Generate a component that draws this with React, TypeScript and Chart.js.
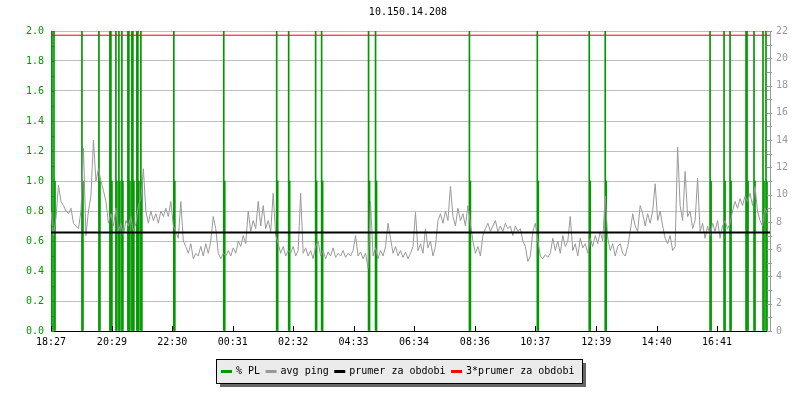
import { useEffect, useRef } from 'react';
import { Chart, registerables } from 'chart.js';

Chart.register(...registerables);

// ---- data ----
const chartTitle = '10.150.14.208';
const timeLabels = ['18:27', '20:29', '22:30', '00:31', '02:32', '04:33', '06:34', '08:36', '10:37', '12:39', '14:40', '16:41'];
const spanMinutes = 1440;
const pingStepMinutes = 5;

// average ping [ms], one value per 5 minutes starting 18:27
const pingMs = [
  8.8, 7.0, 8.3, 10.7, 9.5, 9.2, 8.8, 8.6, 9.0, 7.9, 7.7, 7.5,
  8.8, 13.4, 7.0, 8.8, 9.9, 14.0, 11.0, 11.9, 11.0, 10.3, 9.5, 7.9,
  8.6, 7.7, 9.0, 7.3, 7.9, 7.0, 8.1, 7.7, 8.4, 7.3, 7.9, 9.2,
  9.7, 11.9, 8.8, 7.9, 8.8, 8.1, 8.6, 7.9, 8.8, 8.4, 9.0, 8.4,
  9.5, 7.7, 7.3, 6.8, 9.5, 6.6, 6.2, 5.7, 6.4, 5.3, 5.7, 5.5,
  6.2, 5.5, 6.4, 5.7, 6.6, 8.4, 7.5, 5.7, 5.3, 5.7, 5.5, 5.9,
  5.5, 6.1, 5.7, 6.6, 6.2, 7.0, 6.4, 8.8, 7.3, 8.1, 7.5, 9.5,
  7.7, 9.2, 7.5, 8.1, 7.3, 10.1, 7.0, 6.4, 5.7, 6.2, 5.5, 5.9,
  5.7, 6.2, 5.5, 5.9, 10.1, 5.7, 6.1, 5.5, 5.9, 5.3, 6.2, 6.6,
  5.5, 5.9, 5.3, 5.8, 5.5, 6.1, 5.4, 5.7, 5.5, 5.9, 5.4, 5.7,
  5.5, 5.9, 7.0, 5.5, 5.8, 5.3, 5.7, 4.6, 9.5, 5.5, 6.1, 5.3,
  5.9, 5.5, 6.2, 7.9, 6.8, 5.7, 6.2, 5.5, 5.9, 5.4, 5.8, 5.3,
  5.7, 6.2, 8.7, 5.9, 6.4, 5.7, 7.5, 6.1, 6.6, 5.5, 6.2, 8.1,
  8.6, 7.9, 8.8, 8.1, 10.6, 8.4, 7.7, 9.0, 8.1, 8.6, 7.7, 9.2,
  7.9, 6.6, 5.7, 6.2, 5.5, 7.0, 7.5, 7.9, 7.3, 7.7, 8.1, 7.3,
  7.7, 7.3, 7.9, 7.5, 7.7, 7.0, 7.7, 7.3, 7.5, 6.6, 6.2, 5.1,
  5.5, 7.3, 7.9, 6.6, 5.5, 5.3, 5.6, 5.4, 5.7, 6.8, 5.9, 6.6,
  5.7, 7.0, 6.2, 6.6, 8.4, 5.9, 6.4, 5.5, 6.8, 6.1, 6.4, 5.7,
  6.8, 6.2, 7.0, 6.4, 7.3, 6.6, 9.9, 6.8, 5.9, 6.4, 5.5, 6.2,
  6.4, 5.7, 5.5, 6.2, 7.3, 8.6, 7.7, 7.3, 9.2, 8.6, 7.7, 8.6,
  7.9, 8.8, 10.8, 8.1, 8.8, 7.7, 6.8, 6.4, 7.0, 5.9, 6.2, 13.5,
  9.2, 8.1, 11.7, 8.4, 8.8, 7.5, 8.1, 11.2, 7.3, 7.9, 6.8, 7.7,
  7.0, 7.9, 7.3, 8.1, 6.8, 7.7, 8.1, 7.5, 7.9, 8.8, 9.5, 9.0,
  9.7, 9.2, 9.9, 9.5, 10.1, 9.2, 10.6, 8.8, 8.1, 7.7, 9.0, 8.6,
];

// packet loss samples: minute offset from 18:27 and loss in %
const plMinutes = [
  0, 2, 6, 8, 62, 64, 96, 98, 118, 120, 122, 130, 132, 136, 138, 142, 144,
  154, 156, 158, 162, 164, 166, 172, 174, 176, 180, 182, 246, 248, 346, 348,
  452, 454, 476, 478, 530, 532, 542, 544, 636, 638, 650, 652, 838, 840,
  974, 976, 1078, 1080, 1110, 1112, 1320, 1322, 1348, 1350, 1360, 1362,
  1392, 1394, 1396, 1408, 1410, 1426, 1428, 1432, 1434,
];
const plPercent = [
  10, 10, 10, 1, 10, 1, 10, 1, 10, 10, 1, 10, 1, 10, 1, 10, 1,
  10, 10, 1, 10, 10, 1, 10, 10, 1, 10, 1, 10, 1, 10, 1,
  10, 1, 10, 1, 10, 1, 10, 1, 10, 1, 10, 1, 10, 1,
  10, 1, 10, 1, 10, 1, 10, 1, 10, 1, 10, 1,
  10, 10, 1, 10, 1, 10, 1, 10, 1,
];

const prumerMs = 7.23;
const legendLabels = ['% PL', 'avg ping', 'prumer za obdobi', '3*prumer za obdobi'];

// ---- styling ----
const GREEN = '#009900';
const PING_GRAY = '#999999';
const AXIS_GRAY = '#9a9a9a';
const GRID = '#bebebe';
const RED = '#ff0000';
const FONT_FAMILY = '"DejaVu Sans Mono", monospace';
const FONT = `10px ${FONT_FAMILY}`;

const toMinutes = (s: string) => {
  const [h, m] = s.split(':').map(Number);
  return h * 60 + m;
};
const startMinute = toMinutes(timeLabels[0]);
const tickMinutes = timeLabels.map((s) => (toMinutes(s) - startMinute + 1440) % 1440);

const pingPoints = pingMs.map((v, i) => ({ x: i * pingStepMinutes, y: v }));
const plPoints = plMinutes.map((t, i) => ({ x: t, y: plPercent[i] }));
const meanLine = (v: number) => [
  { x: 0, y: v },
  { x: spanMinutes, y: v },
];

const seriesColors = [GREEN, PING_GRAY, '#000000', RED];

const rrdDecor = {
  id: 'rrdDecor',
  afterDraw(chart: any) {
    const { ctx, chartArea: a, scales } = chart;
    const ys = scales.y;
    const yr = scales.y1;
    const xs = scales.x;
    const seg = (x1: number, y1: number, x2: number, y2: number) => {
      ctx.beginPath();
      ctx.moveTo(x1, y1);
      ctx.lineTo(x2, y2);
      ctx.stroke();
    };
    ctx.save();
    ctx.lineWidth = 1;

    // minor tick marks, left axis
    ctx.strokeStyle = GREEN;
    for (let i = 0; i <= 20; i++) {
      const py = Math.round(ys.getPixelForValue(i / 10)) + 0.5;
      seg(a.left, py, a.left + 3, py);
    }
    // tick marks, right axis
    ctx.strokeStyle = AXIS_GRAY;
    for (let v = 0; v <= 22; v++) {
      const py = Math.round(yr.getPixelForValue(v)) + 0.5;
      seg(a.right - 3, py, a.right + 2, py);
    }
    // tick marks, time axis
    ctx.strokeStyle = '#000';
    tickMinutes.forEach((m) => {
      const px = Math.round(xs.getPixelForValue(m)) + 0.5;
      seg(px, a.bottom - 5, px, a.bottom);
    });

    // title
    ctx.font = FONT;
    ctx.fillStyle = '#000';
    ctx.textAlign = 'center';
    ctx.textBaseline = 'middle';
    ctx.fillText(chartTitle, 408, 12);

    // legend box
    const sw = 11;
    const swGap = 4;
    const itemGap = 5.5;
    const widths = legendLabels.map((t) => ctx.measureText(t).width);
    const inner = widths.reduce((s, w) => s + sw + swGap + w, 0) + itemGap * (legendLabels.length - 1);
    const padL = 5;
    const padR = 8;
    const boxW = Math.round(inner + padL + padR);
    const boxH = 24;
    const boxX = Math.round(399 - boxW / 2);
    const boxY = 359;
    ctx.fillStyle = '#666666';
    ctx.fillRect(boxX + 4, boxY + 4, boxW, boxH);
    ctx.fillStyle = '#ebebeb';
    ctx.fillRect(boxX, boxY, boxW, boxH);
    ctx.strokeStyle = '#000';
    ctx.strokeRect(boxX + 0.5, boxY + 0.5, boxW, boxH);

    let cx = boxX + padL;
    const cy = boxY + 12;
    ctx.textAlign = 'left';
    legendLabels.forEach((t, i) => {
      ctx.fillStyle = seriesColors[i];
      ctx.fillRect(cx, cy - 1, sw, 3);
      ctx.fillStyle = '#000';
      ctx.fillText(t, cx + sw + swGap, cy);
      cx += sw + swGap + widths[i] + itemGap;
    });
    ctx.restore();
  },
};

export default function App() {
  const ref = useRef<HTMLCanvasElement>(null);

  useEffect(() => {
    document.body.style.margin = '0';
    const canvas = ref.current;
    if (!canvas) return;
    const font = { family: FONT_FAMILY, size: 10 };

    const chart = new Chart(canvas, {
      type: 'line',
      data: {
        datasets: [
          {
            type: 'bar',
            label: legendLabels[0],
            data: plPoints,
            yAxisID: 'y',
            backgroundColor: GREEN,
            borderWidth: 0,
            barThickness: 1,
            order: 3,
          } as any,
          {
            label: legendLabels[1],
            data: pingPoints,
            yAxisID: 'y1',
            borderColor: PING_GRAY,
            borderWidth: 1,
            tension: 0,
            pointRadius: 0,
            order: 2,
          },
          {
            label: legendLabels[2],
            data: meanLine(prumerMs),
            yAxisID: 'y1',
            borderColor: '#000000',
            borderWidth: 2,
            pointRadius: 0,
            order: 1,
          },
          {
            label: legendLabels[3],
            data: meanLine(prumerMs * 3),
            yAxisID: 'y1',
            borderColor: RED,
            borderWidth: 1,
            pointRadius: 0,
            order: 0,
          },
        ],
      },
      options: {
        animation: false,
        responsive: false,
        devicePixelRatio: 1,
        layout: { padding: { top: 31, left: 0, right: 0, bottom: 0 } },
        plugins: {
          legend: { display: false },
          title: { display: false },
          tooltip: { enabled: false },
        },
        elements: { point: { radius: 0 } },
        scales: {
          x: {
            type: 'linear',
            position: 'bottom',
            min: 0,
            max: spanMinutes,
            offset: false,
            afterBuildTicks: (s: any) => {
              s.ticks = tickMinutes.map((v) => ({ value: v }));
            },
            afterFit: (s: any) => {
              s.height = 69;
            },
            ticks: {
              autoSkip: false,
              maxRotation: 0,
              padding: 5,
              color: '#000',
              font,
              callback: (_v: any, i: number) => timeLabels[i],
            },
            grid: { display: false, offset: false, drawTicks: false },
            border: { display: true, color: '#000', width: 1 },
          },
          y: {
            position: 'left',
            min: 0,
            max: 2,
            afterFit: (s: any) => {
              s.width = 51;
            },
            ticks: {
              stepSize: 0.2,
              color: GREEN,
              font,
              padding: 7,
              callback: (v: any) => Number(v).toFixed(1),
            },
            grid: {
              color: (c: any) => (c.tick && c.tick.value === 0 ? 'rgba(0,0,0,0)' : GRID),
              drawTicks: false,
            },
            border: { color: GREEN, width: 1 },
          },
          y1: {
            position: 'right',
            min: 0,
            max: 22,
            afterFit: (s: any) => {
              s.width = 30;
            },
            ticks: { stepSize: 2, color: AXIS_GRAY, font, padding: 6 },
            grid: { display: false, drawTicks: false },
            border: { color: AXIS_GRAY, width: 1 },
          },
        },
      } as any,
      plugins: [rrdDecor],
    });

    return () => chart.destroy();
  }, []);

  return (
    <div style={{ width: 800, height: 400, background: '#ffffff' }}>
      <canvas ref={ref} width={800} height={400} style={{ display: 'block' }} />
    </div>
  );
}
